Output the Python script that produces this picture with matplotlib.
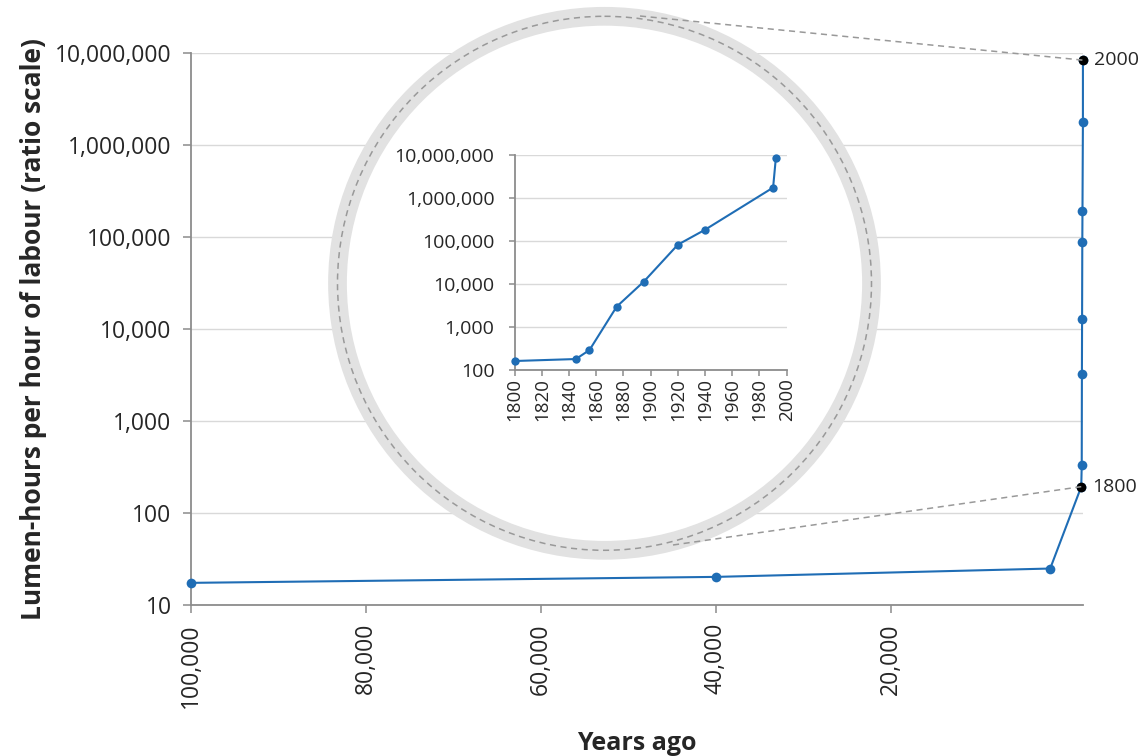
import matplotlib
matplotlib.use("Agg")
import matplotlib.pyplot as plt
from matplotlib.patches import Circle
from matplotlib.ticker import FuncFormatter, FixedLocator, NullLocator

# ---------------- data ----------------
main_years = [-100000, -40000, -1750, 1800, 1855, 1875, 1895, 1920, 1940, 1990, 1992]
main_vals = [17.4, 20.2, 24.9, 193, 330, 3200, 12700, 87000, 190000, 1750000, 8300000]

inset_years = [1800, 1845, 1855, 1875, 1895, 1920, 1940, 1990, 1992]
inset_vals = [162, 180, 292, 2990, 11500, 83000, 185000, 1770000, 8500000]

highlight_labels = ["1800", "2000"]
highlight_years = [1800, 1992]
highlight_vals = [193, 8300000]

x_ticks = [-100000, -80000, -60000, -40000, -20000]
x_tick_labels = ["100,000", "80,000", "60,000", "40,000", "20,000"]
y_ticks = [10, 100, 1000, 10000, 100000, 1000000, 10000000]
inset_x_ticks = list(range(1800, 2001, 20))
inset_y_ticks = [100, 1000, 10000, 100000, 1000000, 10000000]

# ---------------- style ----------------
W, H = 1143, 756
plt.rcParams['font.family'] = ['Open Sans', 'DejaVu Sans']
BLUE = '#1f6db5'
GRID = '#d9d9d9'
SPINE = '#8c8c8c'
TXT = '#262626'

fig = plt.figure(figsize=(W / 100, H / 100), dpi=100)
fig.patch.set_facecolor('white')

comma = FuncFormatter(lambda v, p: f"{int(round(v)):,}")

# ---------------- main axes ----------------
ax = fig.add_axes([191 / W, 1 - 605 / H, (1083 - 191) / W, (605 - 52.7) / H], zorder=0)
ax.set_yscale('log')
ax.set_xlim(-100000, 2000)
ax.set_ylim(10, 10000000)
ax.yaxis.set_major_locator(FixedLocator(y_ticks))
ax.yaxis.set_minor_locator(NullLocator())
ax.yaxis.set_major_formatter(comma)
ax.set_xticks(x_ticks)
ax.set_xticklabels(x_tick_labels, rotation=90)
ax.grid(axis='y', color=GRID, linewidth=1.0)
ax.set_axisbelow(True)
for s in ['top', 'right']:
    ax.spines[s].set_visible(False)
for s in ['left', 'bottom']:
    ax.spines[s].set_color(SPINE)
    ax.spines[s].set_linewidth(1.3)
ax.tick_params(axis='y', length=6, width=1.1, color=SPINE, pad=8, labelsize=16.5, labelcolor=TXT)
ax.tick_params(axis='x', length=6, width=1.1, color=SPINE, pad=7, labelsize=16.5, labelcolor=TXT)
ax.set_ylabel("Lumen-hours per hour of labour (ratio scale)", fontsize=19, fontweight='bold',
              color=TXT, labelpad=6)
ax.set_xlabel("Years ago", fontsize=18, fontweight='bold', color=TXT, labelpad=17)

ax.plot(main_years, main_vals, color=BLUE, linewidth=1.5, marker='o', markersize=7,
        markeredgewidth=0, zorder=3, clip_on=False)
ax.plot(highlight_years, highlight_vals, linestyle='none', marker='o', markersize=7,
        color='black', markeredgewidth=0, zorder=6, clip_on=False)
for lab, xv, yv in zip(highlight_labels, highlight_years, highlight_vals):
    ax.annotate(lab, (xv, yv), xytext=(8, 0), textcoords='offset points', va='center',
                ha='left', fontsize=14, color=TXT, annotation_clip=False, zorder=6)

# ---------------- overlay: magnifier circle and connectors ----------------
ov = fig.add_axes([0, 0, 1, 1], zorder=1)
ov.set_xlim(0, W)
ov.set_ylim(H, 0)
ov.axis('off')
ov.patch.set_alpha(0)

cx, cy, r = 604.5, 283.3, 267.0
ov.add_patch(Circle((cx, cy), r, facecolor='white', edgecolor='#e2e2e2', linewidth=13.5))
ov.add_patch(Circle((cx, cy), r, facecolor='none', edgecolor='#999999', linewidth=1.1,
                    linestyle=(0, (4, 3))))


def to_px(xv, yv):
    dx, dy = ax.transData.transform((xv, yv))
    return dx, H - dy


x_top, y_top = to_px(highlight_years[1], highlight_vals[1])
x_bot, y_bot = to_px(highlight_years[0], highlight_vals[0])
ov.plot([640, x_top], [16, y_top], color='#999999', linewidth=1.1, linestyle=(0, (4, 3)))
ov.plot([673, x_bot], [545, y_bot], color='#999999', linewidth=1.1, linestyle=(0, (4, 3)))

# ---------------- inset axes ----------------
ins = fig.add_axes([514.7 / W, 1 - 370 / H, (786.7 - 514.7) / W, (370 - 155.3) / H], zorder=2)
ins.patch.set_alpha(0)
ins.set_yscale('log')
ins.set_xlim(1800, 2000)
ins.set_ylim(100, 10000000)
ins.yaxis.set_major_locator(FixedLocator(inset_y_ticks))
ins.yaxis.set_minor_locator(NullLocator())
ins.yaxis.set_major_formatter(comma)
ins.set_xticks(inset_x_ticks)
ins.set_xticklabels([str(v) for v in inset_x_ticks], rotation=90)
ins.grid(axis='y', color=GRID, linewidth=1.0)
ins.set_axisbelow(True)
for s in ['top', 'right']:
    ins.spines[s].set_visible(False)
for s in ['left', 'bottom']:
    ins.spines[s].set_color(SPINE)
    ins.spines[s].set_linewidth(1.3)
ins.tick_params(axis='y', length=4.5, width=1.1, color=SPINE, pad=10, labelsize=14, labelcolor=TXT)
ins.tick_params(axis='x', length=4, width=1.1, color=SPINE, pad=2, labelsize=13.5, labelcolor=TXT)
ins.plot(inset_years, inset_vals, color=BLUE, linewidth=1.5, marker='o', markersize=6,
         markeredgewidth=0, clip_on=False, zorder=3)

fig.savefig("out.png", dpi=100, facecolor='white')
